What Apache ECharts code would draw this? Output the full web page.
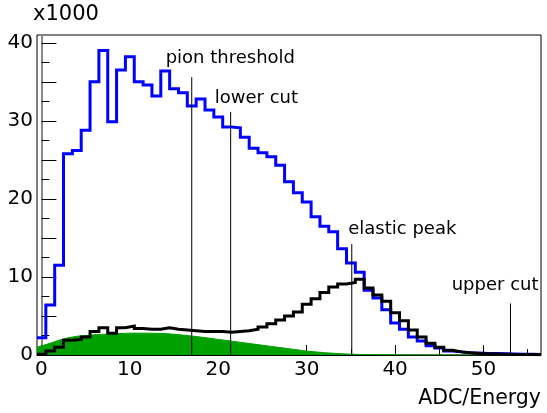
<!DOCTYPE html>
<html>
<head>
<meta charset="utf-8">
<script src="https://cdn.jsdelivr.net/npm/echarts@6/dist/echarts.min.js"></script>
<style>
  html, body { margin: 0; padding: 0; background: #ffffff; }
  #chart { width: 547px; height: 413px; }
</style>
</head>
<body>
<div id="chart"></div>
<script>
// Histogram binning: unit-width bins centred on integers 0..56
const binLow = -0.5;
const binWidth = 1;

// All events (units of 1000 per bin)
const allEvents = [
  2.2, 6.4, 11.5, 25.8, 26.2, 28.8, 35.0, 39.0, 29.9, 36.5,
  38.2, 35.0, 34.6, 33.2, 36.4, 34.1, 33.6, 31.9, 32.8, 31.4,
  30.5, 29.2, 29.1, 27.9, 26.5, 25.9, 25.4, 24.3, 22.2, 20.8,
  19.6, 17.7, 16.5, 15.8, 13.6, 11.8, 10.6, 8.3, 7.3, 5.8,
  4.1, 3.3, 2.3, 1.8, 1.2, 0.9, 0.5, 0.4, 0.3, 0.25,
  0.2, 0.18, 0.15, 0.12, 0.1, 0.1, 0.08
];

// Events passing the selection
const selectedEvents = [
  0.1, 0.5, 1.0, 1.9, 2.0, 2.3, 3.0, 3.5, 2.8, 3.5,
  3.7, 3.4, 3.3, 3.3, 3.5, 3.3, 3.2, 3.1, 3.0, 3.0,
  3.0, 2.9, 3.0, 3.1, 3.3, 3.6, 4.0, 4.5, 5.0, 5.5,
  6.5, 7.2, 8.0, 8.7, 9.1, 9.3, 9.7, 8.6, 7.7, 6.9,
  5.4, 4.4, 3.2, 2.3, 1.5, 1.0, 0.6, 0.4, 0.3, 0.2,
  0.15, 0.12, 0.1, 0.08, 0.06, 0.05, 0.04
];

// Background component (filled)
const backgroundX = [-0.5, 1, 2, 3, 4, 6, 8, 10, 12, 14, 16, 18, 20, 22, 24, 26, 28, 30, 32, 34, 36, 40, 46, 56.5];
const backgroundY = [1.0, 1.5, 1.9, 2.2, 2.4, 2.6, 2.7, 2.8, 2.8, 2.75, 2.55, 2.3, 2.0, 1.7, 1.4, 1.1, 0.8, 0.5, 0.3, 0.15, 0.07, 0.02, 0, 0];

// Marker lines and their captions
const markerNames = ['pion threshold', 'lower cut', 'elastic peak', 'upper cut'];
const markerX = [17.0, 21.4, 35.1, 53.05];
const markerTop = [35.6, 31.15, 14.2, 6.6];
const captionX = [14.05, 19.6, 34.7, 46.4];
const captionY = [38.0, 32.95, 16.06, 8.88];

// Axis ticks
const xLabelTicks = [0, 10, 20, 30, 40, 50];
const xMinorTicks = [5, 15, 25, 35, 45, 55];
const yLabelTicks = [0, 10, 20, 30, 40];
const yMajorTicks = [0, 5, 10, 15, 20, 25, 30, 35, 40];
const yMinorTicks = [2.5, 7.5, 12.5, 17.5, 22.5, 27.5, 32.5, 37.5];

const FONT = 'DejaVu Sans';

function histSteps(counts) {
  const pts = [];
  counts.forEach(function (v, i) {
    const lo = binLow + i * binWidth;
    pts.push([lo, v], [lo + binWidth, v]);
  });
  return pts;
}

const xRange = { min: binLow, max: binLow + allEvents.length * binWidth };

const series = [
  {
    type: 'line',
    data: backgroundX.map(function (x, i) { return [x, backgroundY[i]]; }),
    symbol: 'none',
    lineStyle: { width: 1, color: '#00a000' },
    areaStyle: { color: '#00a000', opacity: 1 },
    z: 2
  },
  {
    type: 'line',
    data: histSteps(allEvents),
    symbol: 'none',
    lineStyle: { width: 3, color: '#0000ff', join: 'miter' },
    z: 3
  },
  {
    type: 'line',
    data: histSteps(selectedEvents),
    symbol: 'none',
    lineStyle: { width: 3, color: '#000000', join: 'miter' },
    z: 4
  }
];

markerX.forEach(function (x, i) {
  series.push({
    type: 'line',
    data: [[x, 0], [x, markerTop[i]]],
    symbol: 'none',
    lineStyle: { width: 1, color: '#000000' },
    z: 5
  });
});

series.push({
  type: 'scatter',
  data: captionX.map(function (x, i) { return [x, captionY[i], markerNames[i]]; }),
  symbolSize: 0,
  itemStyle: { opacity: 1 },
  label: {
    show: true,
    formatter: function (p) { return p.data[2]; },
    position: [0, 0],
    align: 'left',
    verticalAlign: 'middle',
    color: '#000000',
    fontFamily: FONT,
    fontSize: 18
  },
  z: 6
});

const chart = echarts.init(document.getElementById('chart'), null, { renderer: 'canvas' });
chart.setOption({
  animation: false,
  backgroundColor: '#ffffff',
  grid: {
    left: 37, top: 35, width: 504, height: 320,
    show: true, borderColor: '#000000', borderWidth: 1, backgroundColor: 'transparent'
  },
  xAxis: [
    {
      type: 'value', min: xRange.min, max: xRange.max,
      axisLine: { show: true, lineStyle: { color: '#000000', width: 1 } },
      axisTick: { show: true, inside: true, length: 10, customValues: xLabelTicks, lineStyle: { color: '#000000', width: 1 } },
      axisLabel: { show: true, customValues: xLabelTicks, margin: 5, color: '#000000', fontFamily: FONT, fontSize: 20 },
      splitLine: { show: false }
    },
    {
      type: 'value', min: xRange.min, max: xRange.max, position: 'bottom',
      axisLine: { show: false },
      axisTick: { show: true, inside: true, length: 6, customValues: xMinorTicks, lineStyle: { color: '#000000', width: 1 } },
      axisLabel: { show: false, customValues: xMinorTicks },
      splitLine: { show: false }
    }
  ],
  yAxis: [
    {
      type: 'value', min: 0, max: 41,
      axisLine: { show: true, lineStyle: { color: '#888888', width: 2 } },
      axisTick: { show: true, inside: true, length: 15, customValues: yMajorTicks, lineStyle: { color: '#000000', width: 1 } },
      axisLabel: { show: true, customValues: yLabelTicks, margin: 4, color: '#000000', fontFamily: FONT, fontSize: 20 },
      splitLine: { show: false }
    },
    {
      type: 'value', min: 0, max: 41, position: 'left',
      axisLine: { show: false },
      axisTick: { show: true, inside: true, length: 8, customValues: yMinorTicks, lineStyle: { color: '#000000', width: 1 } },
      axisLabel: { show: false, customValues: yMinorTicks },
      splitLine: { show: false }
    }
  ],
  graphic: [
    {
      type: 'text', left: 33, top: 4,
      style: { text: 'x1000', fill: '#000000', font: '21px "DejaVu Sans"' }
    },
    {
      type: 'text', right: 6, top: 388,
      style: { text: 'ADC/Energy', fill: '#000000', font: '20.5px "DejaVu Sans"' }
    }
  ],
  series: series
});
</script>
</body>
</html>
